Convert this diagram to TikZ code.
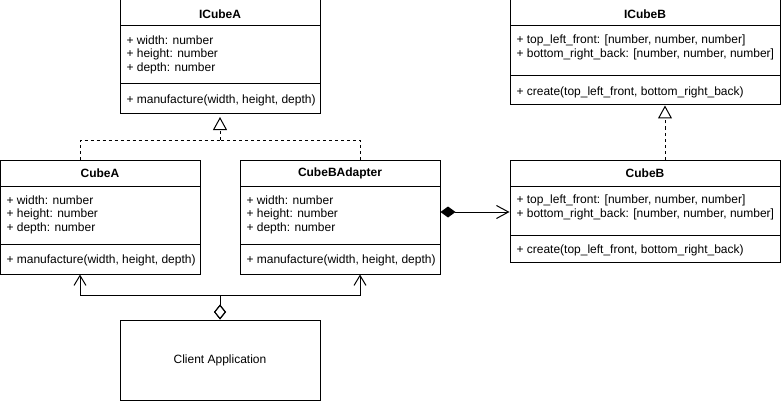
\documentclass[tikz,border=0pt]{standalone}
\usepackage{fontspec}
\setmainfont{Liberation Sans}
\usetikzlibrary{arrows.meta}
\begin{document}
\begin{tikzpicture}[x=1pt,y=-1pt,
  line width=1pt,
  classbox/.style={draw, inner sep=0pt, line width=1pt},
  ttl/.style={font=\fontsize{12}{14}\selectfont\bfseries, inner sep=0pt},
  attr/.style={font=\fontsize{12}{14}\selectfont, anchor=west, inner sep=0pt},
  plain/.style={font=\fontsize{12}{14}\selectfont, inner sep=0pt},
  realize/.style={dashed, dash pattern=on 3pt off 3pt, -{Triangle[open, length=13pt, width=14pt]}},
  compose/.style={{Diamond[length=15pt, width=11pt]}-{Straight Barb[length=12pt, width=13pt]}},
  aggr/.style={{Diamond[open, length=15pt, width=12pt]}-{Straight Barb[length=10pt, width=12pt]}},
  dashedline/.style={dash pattern=on 3pt off 3pt}
]
\useasboundingbox (0,0) rectangle (781,401);

% ICubeA
\node[classbox, minimum width=200pt, minimum height=114pt] (icubea) at (220,57) {};
\draw (120,26) -- (320,26);
\draw (120,84) -- (320,84);
\node[ttl] (icubeat) at (220,14) {ICubeA};
\node[attr] (icubea1) at (126,40) {+ width: number};
\node[attr] (icubea2) at (126,54) {+ height: number};
\node[attr] (icubea3) at (126,68) {+ depth: number};
\node[attr] (icubeam) at (126,100) {+ manufacture(width, height, depth)};

% CubeA
\node[classbox, minimum width=200pt, minimum height=114pt] (cubea) at (100,217) {};
\draw (0,186) -- (200,186);
\draw (0,244) -- (200,244);
\node[ttl] (cubeat) at (100,173) {CubeA};
\node[attr] (cubea1) at (6,200) {+ width: number};
\node[attr] (cubea2) at (6,214) {+ height: number};
\node[attr] (cubea3) at (6,228) {+ depth: number};
\node[attr] (cubeam) at (6,260) {+ manufacture(width, height, depth)};

% CubeBAdapter
\node[classbox, minimum width=200pt, minimum height=114pt] (cubebadapter) at (340,217) {};
\draw (240,186) -- (440,186);
\draw (240,244) -- (440,244);
\node[ttl] (cubebadaptert) at (340,173) {CubeBAdapter};
\node[attr] (cubebadapter1) at (246,200) {+ width: number};
\node[attr] (cubebadapter2) at (246,214) {+ height: number};
\node[attr] (cubebadapter3) at (246,228) {+ depth: number};
\node[attr] (cubebadapterm) at (246,260) {+ manufacture(width, height, depth)};

% ICubeB
\node[classbox, minimum width=270pt, minimum height=105pt] (icubeb) at (645,52.5) {};
\draw (510,26) -- (780,26);
\draw (510,76) -- (780,76);
\node[ttl] (icubebt) at (645,14) {ICubeB};
\node[attr] (icubeb1) at (516,40) {+ top\_left\_front: [number, number, number]};
\node[attr] (icubeb2) at (516,54) {+ bottom\_right\_back: [number, number, number]};
\node[attr] (icubebm) at (516,92) {+ create(top\_left\_front, bottom\_right\_back)};

% CubeB
\node[classbox, minimum width=270pt, minimum height=102pt] (cubeb) at (645,211) {};
\draw (510,186) -- (780,186);
\draw (510,235) -- (780,235);
\node[ttl] (cubebt) at (645,173) {CubeB};
\node[attr] (cubeb1) at (516,200) {+ top\_left\_front: [number, number, number]};
\node[attr] (cubeb2) at (516,214) {+ bottom\_right\_back: [number, number, number]};
\node[attr] (cubebm) at (516,250) {+ create(top\_left\_front, bottom\_right\_back)};

% Client Application
\node[classbox, minimum width=200pt, minimum height=80pt] (client) at (220,360) {};
\node[plain] (clientt) at (220,360) {Client Application};

% connectors
\coordinate (xa) at (80,0);
\coordinate (xb) at (360,0);
\coordinate (ja) at (220,140);
\draw[dashedline] (xa |- cubea.north) |- (ja);
\draw[dashedline] (xb |- cubebadapter.north) |- (ja);
\draw[realize] (ja) -- ([yshift=-2.5pt]icubea.south);

\coordinate (bx) at (665,0);
\draw[realize] (bx |- cubeb.north) -- (bx |- icubeb.south);

\coordinate (cy) at (0,212);
\draw[compose] (cubebadapter.east |- cy) -- (cubeb.west |- cy);

\coordinate (jc) at (220,295);
\draw[aggr] (client.north) -- (jc) -| (xa |- cubea.south);
\draw[aggr] (client.north) -- (jc) -| (xb |- cubebadapter.south);
\end{tikzpicture}
\end{document}
